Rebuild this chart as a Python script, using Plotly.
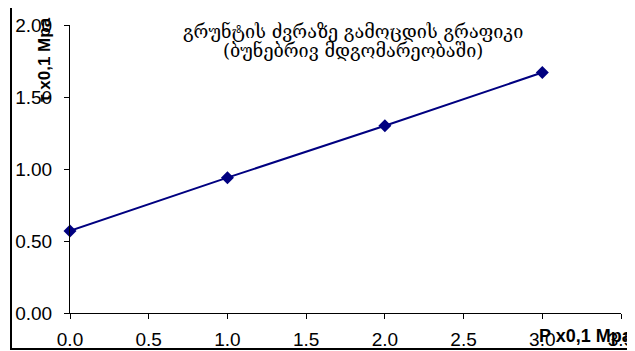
import plotly.graph_objects as go

# Data
p_values = [0, 1, 2, 3]
tau_values = [0.57, 0.94, 1.30, 1.67]
x_ticks = [0.0, 0.5, 1.0, 1.5, 2.0, 2.5, 3.0, 3.5]
y_ticks = [0.0, 0.5, 1.0, 1.5, 2.0]
title_lines = ["გრუნტის ძვრაზე გამოცდის გრაფიკი", "(ბუნებრივ მდგომარეობაში)"]
x_title = "P x0,1 Mpa"
y_title = "τ x0,1 Mpa"

OFF = 8  # page body margin
W, H = 635 - OFF, 351 - OFF
px = lambda v: (v - OFF) / W
py = lambda v: 1 - (v - OFF) / H

fig = go.Figure()
fig.add_trace(go.Scatter(
    x=p_values, y=tau_values, mode="lines+markers",
    line=dict(color="#000080", width=2),
    marker=dict(symbol="diamond", size=10, color="#000080"),
    showlegend=False, cliponaxis=False,
))

axis_font = dict(family="Liberation Sans, Arial", size=19, color="black")
fig.update_layout(
    width=W, height=H,
    margin=dict(l=0, r=0, t=0, b=0, autoexpand=False),
    paper_bgcolor="white", plot_bgcolor="white",
    xaxis=dict(domain=[px(70), px(621)], range=[0, 3.5], tickvals=x_ticks,
               ticktext=[f"{v:.1f}" for v in x_ticks], automargin=False,
               showline=True, linecolor="black", linewidth=1,
               ticks="outside", ticklen=5, tickcolor="black",
               showgrid=False, zeroline=False, tickfont=axis_font,
               ticklabelstandoff=4),
    yaxis=dict(domain=[py(313), py(25)], range=[0, 2], tickvals=y_ticks,
               ticktext=[f"{v:.2f}" for v in y_ticks], automargin=False,
               showline=True, linecolor="black", linewidth=1,
               ticks="outside", ticklen=5, tickcolor="black",
               showgrid=False, zeroline=False, tickfont=axis_font,
               ticklabelstandoff=8),
    shapes=[dict(type="rect", xref="paper", yref="paper",
                 x0=px(11), x1=px(633), y0=py(349), y1=py(5),
                 line=dict(color="black", width=2))],
    annotations=[
        dict(text=title_lines[0], xref="paper", yref="paper",
             x=px(353), y=py(31), showarrow=False,
             xanchor="center", yanchor="middle",
             font=dict(family="DejaVu Serif", size=18, color="black")),
        dict(text=title_lines[1], xref="paper", yref="paper",
             x=px(353), y=py(50), showarrow=False,
             xanchor="center", yanchor="middle",
             font=dict(family="DejaVu Serif", size=18, color="black")),
        dict(text=f"<b>{x_title}</b>", xref="paper", yref="paper",
             x=px(586), y=py(336), showarrow=False,
             xanchor="center", yanchor="middle",
             font=dict(family="Liberation Sans, Arial", size=18, color="black")),
        dict(text=f"<b>{y_title}</b>", xref="paper", yref="paper",
             x=px(44), y=py(60), showarrow=False, textangle=-90,
             xanchor="center", yanchor="middle",
             font=dict(family="Liberation Sans, Arial", size=17, color="black")),
    ],
)

fig.write_html("out.html")
